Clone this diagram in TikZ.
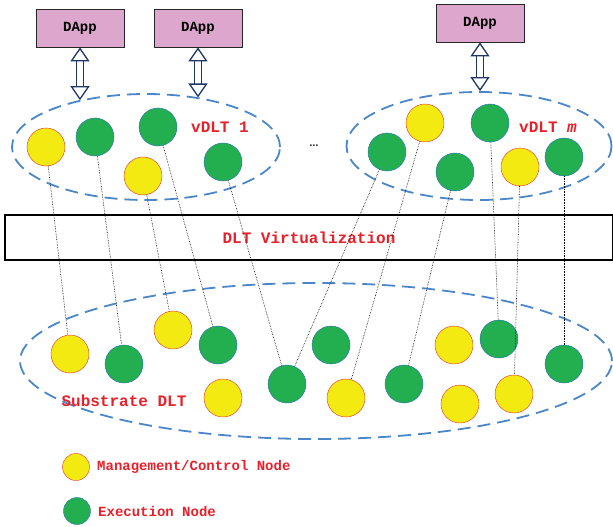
\documentclass[tikz,border=0pt]{standalone}
\usepackage{fontspec}
\setmonofont{Liberation Mono}
\usepackage{tikz}
\usetikzlibrary{positioning,shapes.geometric,arrows.meta}

\definecolor{dappfill}{RGB}{221,166,204}
\definecolor{mcfill}{RGB}{243,234,18}
\definecolor{mcline}{RGB}{235,45,45}
\definecolor{exfill}{RGB}{35,175,80}
\definecolor{exline}{RGB}{40,110,185}
\definecolor{ringblue}{RGB}{74,134,200}
\definecolor{arrownavy}{RGB}{30,55,100}
\definecolor{labelred}{RGB}{232,32,42}

\begin{document}
\begin{tikzpicture}[x=1pt,y=-1pt,
        every node/.style = {font=\ttfamily\bfseries},
        dapp/.style = {rectangle, draw=black!85, line width=0.8pt, fill=dappfill, minimum width=88pt,
            minimum height=38pt, font=\ttfamily\bfseries\fontsize{14}{16}\selectfont},
        mc/.style = {circle, draw=mcline, fill=mcfill, minimum size=38pt, inner sep=0pt},
        ex/.style = {circle, draw=exline, fill=exfill, minimum size=38pt, inner sep=0pt},
        ring/.style = {ellipse, draw=ringblue, line width=1.8pt,
            dash pattern=on 13pt off 7pt, inner sep=0pt},
        redtext/.style = {text=labelred, font=\ttfamily\bfseries\fontsize{16}{18}\selectfont},
        legendtext/.style = {text=labelred, anchor=west,
            font=\ttfamily\bfseries\fontsize{14}{16}\selectfont},
        link/.style = {densely dotted, line width=0.6pt},
        dblarrow/.style = {arrownavy, line width=1.3pt, double=white, double distance=6pt,
            {Triangle[open,length=14pt,width=19pt]}-{Triangle[open,length=14pt,width=19pt]}}]
    \useasboundingbox (0,0) rectangle (613,527);

    % applications
    \node[dapp] (d1) at (80,28) {DApp};
    \node[dapp] (d2) at (198,28) {DApp};
    \node[dapp] (d3) at (480,23) {DApp};

    % virtual DLTs
    \node[ring, minimum width=268pt, minimum height=106pt] (v1) at (146,147) {};
    \node[ring, minimum width=265pt, minimum height=108pt] (vm) at (479,146) {};
    \node[redtext] at (220,127) {vDLT 1};
    \node[redtext] at (548,127) {vDLT \textit{m}};
    \node[inner sep=0pt] (dots) at (314,146) {\normalfont\bfseries\fontsize{12}{14}\selectfont .\kern-0.8pt.\kern-0.8pt.};

    \node[mc] (a1) at (46,147) {};
    \node[ex] (a2) at (95,137) {};
    \node[ex] (a3) at (158,127) {};
    \node[mc] (a4) at (143,176) {};
    \node[ex] (a5) at (223,162) {};

    \node[ex] (c1) at (387,152) {};
    \node[mc] (c2) at (425,123) {};
    \node[ex] (c3) at (455,172) {};
    \node[ex] (c4) at (490,123) {};
    \node[mc] (c5) at (520,167) {};
    \node[ex] (c6) at (564,157) {};

    \draw[dblarrow] (d1.south) -- (d1.south |- v1.145);
    \draw[dblarrow] (d2.south) -- (d2.south |- v1.43);
    \draw[dblarrow] (d3.south) -- (d3.south |- vm.north);

    % virtualization layer
    \node[draw, line width=1.5pt, minimum width=608pt, minimum height=45pt] (virt) at (309,237.5)
        {\textcolor{labelred}{\fontsize{16}{18}\selectfont DLT Virtualization}};

    % substrate
    \node[ring, minimum width=592pt, minimum height=156pt] (sub) at (316,361) {};
    \node[redtext] at (124,401) {Substrate DLT};

    \node[mc] (s1) at (70,354) {};
    \node[ex] (s2) at (124,364) {};
    \node[mc] (s3) at (173,330) {};
    \node[ex] (s4) at (218,345) {};
    \node[mc] (s5) at (223,398) {};
    \node[ex] (s6) at (287,384) {};
    \node[ex] (s7) at (331,345) {};
    \node[mc] (s8) at (346,398) {};
    \node[ex] (s9) at (404,384) {};
    \node[mc] (s10) at (454,345) {};
    \node[ex] (s11) at (499,339) {};
    \node[mc] (s12) at (460,404) {};
    \node[mc] (s13) at (514,394) {};
    \node[ex] (s14) at (564,364) {};

    % mapping
    \draw[link] (a1) -- (s1);
    \draw[link] (a2) -- (s2);
    \draw[link] (a3) -- (s4);
    \draw[link] (a4) -- (s3);
    \draw[link] (a5) -- (s6);
    \draw[link] (c1) -- (s6);
    \draw[link] (c2) -- (s8);
    \draw[link] (c3) -- (s9);
    \draw[link] (c4) -- (s11);
    \draw[link] (c5) -- (s13);
    \draw[link] (c6) -- (s14);

    % legend
    \node[mc, minimum size=27pt] (lmc) at (76,467) {};
    \node[legendtext, right=4pt of lmc] {Management/Control Node};
    \node[ex, minimum size=27pt] (lex) at (77,511) {};
    \node[legendtext, right=4pt of lex] {Execution Node};
\end{tikzpicture}
\end{document}
